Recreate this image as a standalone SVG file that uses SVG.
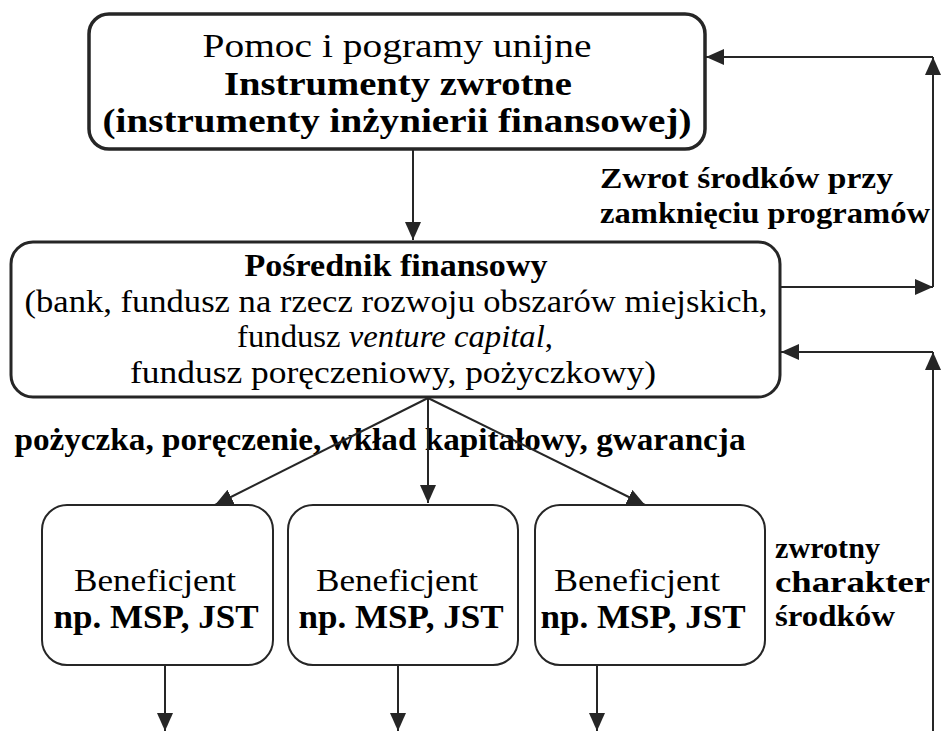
<svg xmlns="http://www.w3.org/2000/svg" width="941" height="731" viewBox="0 0 941 731">
<defs>
<style>
.box{fill:#fff;stroke:#262626}
.t{font-family:"Liberation Serif",serif;fill:#000;text-anchor:middle}
.b{font-weight:bold}
.l{text-anchor:start}
.c{fill:none;stroke:#262626;stroke-width:2}
</style>
<marker id="ah" markerWidth="18" markerHeight="16" refX="18" refY="8" orient="auto" markerUnits="userSpaceOnUse"><path d="M0,0 L18,8 L0,16 Z" fill="#262626"/></marker>
</defs>
<rect width="941" height="731" fill="#fff"/>
<g id="top">
<rect class="box" x="89" y="14" width="616" height="135" rx="20" stroke-width="3.5"/>
<text class="t" x="397" y="57" font-size="34" textLength="389" lengthAdjust="spacingAndGlyphs">Pomoc i pogramy unijne</text>
<text class="t b" x="398" y="95" font-size="34" textLength="348" lengthAdjust="spacingAndGlyphs">Instrumenty zwrotne</text>
<text class="t b" x="397" y="132" font-size="34" textLength="589" lengthAdjust="spacingAndGlyphs">(instrumenty inżynierii finansowej)</text>
</g>
<g id="intermediary">
<rect class="box" x="11" y="242" width="769" height="155" rx="22" stroke-width="3"/>
<text class="t b" x="396" y="276" font-size="31" textLength="303" lengthAdjust="spacingAndGlyphs">Pośrednik finansowy</text>
<text class="t" x="396" y="312" font-size="32" textLength="743" lengthAdjust="spacingAndGlyphs">(bank, fundusz na rzecz rozwoju obszarów miejskich,</text>
<text class="t" x="395" y="347" font-size="32" textLength="316" lengthAdjust="spacingAndGlyphs">fundusz  <tspan font-style="italic">venture capital</tspan>,</text>
<text class="t" x="393" y="383" font-size="32" textLength="526" lengthAdjust="spacingAndGlyphs">fundusz poręczeniowy, pożyczkowy)</text>
</g>
<g id="ben1">
<rect class="box" x="42" y="505" width="231" height="160" rx="25" stroke-width="2"/>
<text class="t" x="155" y="591" font-size="31" textLength="162" lengthAdjust="spacingAndGlyphs">Beneficjent</text>
<text class="t b" x="156" y="628" font-size="34" textLength="205" lengthAdjust="spacingAndGlyphs">np. MSP, JST</text>
</g>
<g id="ben2">
<rect class="box" x="288" y="505" width="230" height="160" rx="25" stroke-width="2"/>
<text class="t" x="397" y="591" font-size="31" textLength="162" lengthAdjust="spacingAndGlyphs">Beneficjent</text>
<text class="t b" x="401" y="628" font-size="34" textLength="205" lengthAdjust="spacingAndGlyphs">np. MSP, JST</text>
</g>
<g id="ben3">
<rect class="box" x="535" y="505" width="230" height="160" rx="25" stroke-width="2"/>
<text class="t" x="637" y="591" font-size="31" textLength="166" lengthAdjust="spacingAndGlyphs">Beneficjent</text>
<text class="t b" x="643" y="628" font-size="34" textLength="205" lengthAdjust="spacingAndGlyphs">np. MSP, JST</text>
</g>
<g id="labels">
<text class="t b l" x="600" y="188" font-size="29" textLength="293" lengthAdjust="spacingAndGlyphs">Zwrot  środków przy</text>
<text class="t b l" x="600" y="223" font-size="29" textLength="330" lengthAdjust="spacingAndGlyphs">zamknięciu programów</text>
<text class="t b" x="380" y="450" font-size="31" textLength="731" lengthAdjust="spacingAndGlyphs">pożyczka, poręczenie, wkład kapitałowy, gwarancja</text>
<text class="t b l" x="775" y="558" font-size="29" textLength="105" lengthAdjust="spacingAndGlyphs">zwrotny</text>
<text class="t b l" x="775" y="592" font-size="29" textLength="155" lengthAdjust="spacingAndGlyphs">charakter</text>
<text class="t b l" x="775" y="626" font-size="29" textLength="120" lengthAdjust="spacingAndGlyphs">środków</text>
</g>
<g id="connectors">
<line class="c" x1="413" y1="150" x2="413" y2="240" marker-end="url(#ah)"/>
<line class="c" x1="780" y1="287" x2="933" y2="287" marker-end="url(#ah)"/>
<line class="c" x1="933" y1="287" x2="933" y2="57" marker-end="url(#ah)"/>
<line class="c" x1="933" y1="57" x2="706" y2="57" marker-end="url(#ah)"/>
<line class="c" x1="933" y1="731" x2="933" y2="352" marker-end="url(#ah)"/>
<line class="c" x1="933" y1="352" x2="781" y2="352" marker-end="url(#ah)"/>
<line class="c" x1="428" y1="398" x2="215" y2="505" marker-end="url(#ah)"/>
<line class="c" x1="428" y1="398" x2="428" y2="503" marker-end="url(#ah)"/>
<line class="c" x1="428" y1="398" x2="645" y2="505" marker-end="url(#ah)"/>
<line class="c" x1="165" y1="665" x2="165" y2="731" marker-end="url(#ah)"/>
<line class="c" x1="398" y1="665" x2="398" y2="731" marker-end="url(#ah)"/>
<line class="c" x1="597" y1="665" x2="597" y2="731" marker-end="url(#ah)"/>
</g>
</svg>
